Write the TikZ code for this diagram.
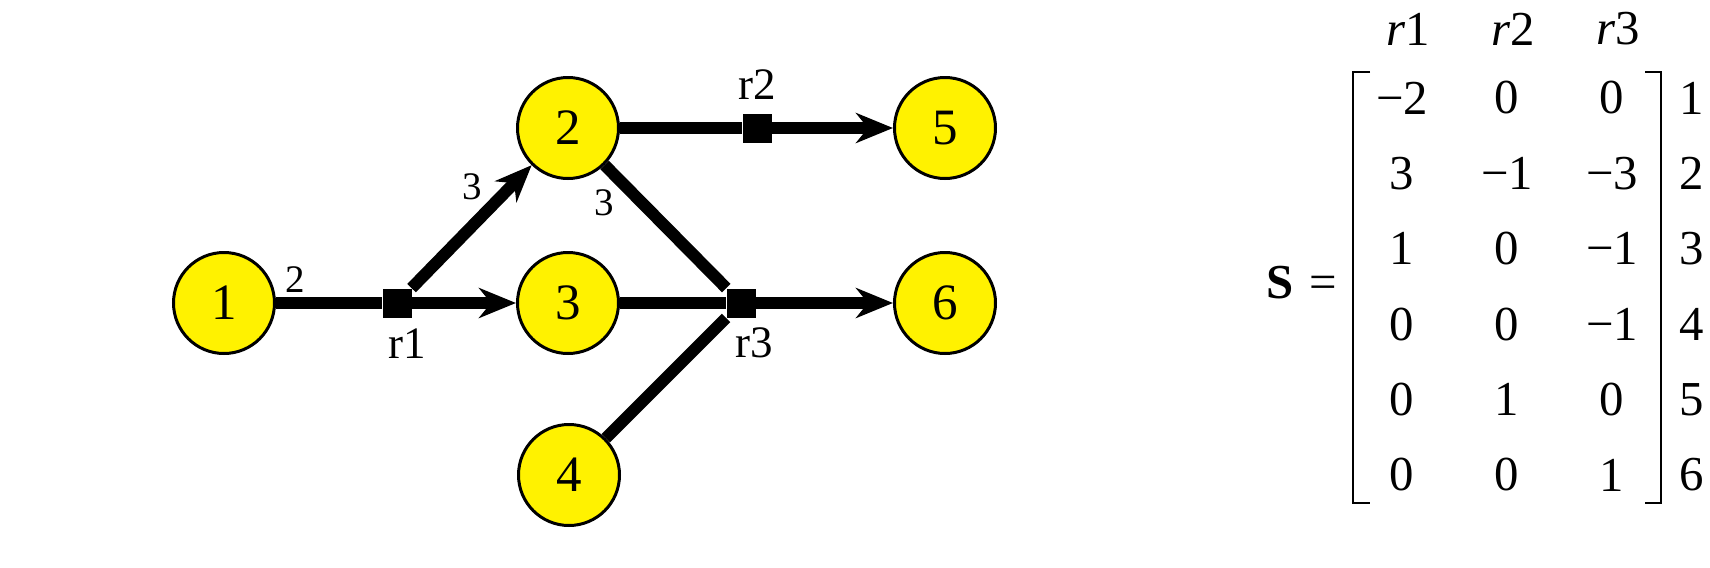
\documentclass[tikz,border=0pt]{standalone}
\usepackage{fontspec}
\setmainfont{Liberation Serif}
\usetikzlibrary{arrows.meta}

\tikzset{
  species/.style={circle, draw=black, line width=1.5pt, fill=yellow,
    minimum size=50.5pt, inner sep=0pt, font=\fontsize{25.5}{28}\selectfont},
  reac/.style={rectangle, fill=black, minimum size=14.5pt, inner sep=0pt},
  flux/.style={line width=6pt},
  into/.style={flux, -{Stealth[length=18.5pt, width=15pt, inset=6pt]}},
  coef/.style={inner sep=0pt, font=\fontsize{19.5}{22}\selectfont},
  rname/.style={inner sep=0pt, font=\fontsize{22.5}{25}\selectfont},
  entry/.style={inner sep=0pt, font=\fontsize{24.4}{28}\selectfont}
}

\begin{document}
\begin{tikzpicture}[x=0.5pt, y=-0.5pt]
   \useasboundingbox (0,0) rectangle (1710,568);
   %
   \node[species] (s1) at (224,303) {1};
   \node[species] (s2) at (568,128) {2};
   \node[species] (s3) at (568,303) {3};
   \node[species] (s4) at (569,475) {4};
   \node[species] (s5) at (945,128) {5};
   \node[species] (s6) at (945,303) {6};
   %
   \node[reac] (r1) at (397,303) {};
   \node[reac] (r2) at (757,128) {};
   \node[reac] (r3) at (741,303) {};
   %
   \draw[flux] (s1) -- (r1);
   \draw[into] (r1) -- (s2);
   \draw[into] (r1) -- (s3);
   \draw[flux] (s2) -- (r2);
   \draw[into] (r2) -- (s5);
   \draw[flux] (s2) -- (r3);
   \draw[flux] (s3) -- (r3);
   \draw[flux] (s4) -- (r3);
   \draw[into] (r3) -- (s6);
   %
   \node[coef] (c1) at (295,280) {2};
   \node[coef] (c2) at (472,187) {3};
   \node[coef] (c3) at (604,203) {3};
   %
   \node[rname] (n1) at (407,344) {r1};
   \node[rname] (n2) at (757,85) {r2};
   \node[rname] (n3) at (754,343) {r3};
   %
   \node[entry] (S) at (1280,283) {\bfseries S};
   \node[entry] (eq) at (1323,287) {=};
   %
   \foreach \j in {1,2,3}
     \node[entry] (h-\j) at ({1303+105*\j},29) {\textit{r}\j};
   %
   \foreach \row [count=\i] in {{−2,0,0},{3,−1,−3},{1,0,−1},{0,0,−1},{0,1,0},{0,0,1}}
     \foreach \e [count=\j] in \row
       \node[entry] (m-\i-\j) at ({1297+105*\j},{98+75.4*(\i-1)}) {\e};
   %
   \foreach \i in {1,...,6}
     \node[entry, anchor=west] (k-\i) at (1679,{98+75.4*(\i-1)}) {\i};
   %
   \draw[line width=1.25pt] (1370,72)--(1353,72)--(1353,503)--(1370,503);
   \draw[line width=1.25pt] (1645,72)--(1661,72)--(1661,503)--(1645,503);
   %
\end{tikzpicture}
\end{document}
